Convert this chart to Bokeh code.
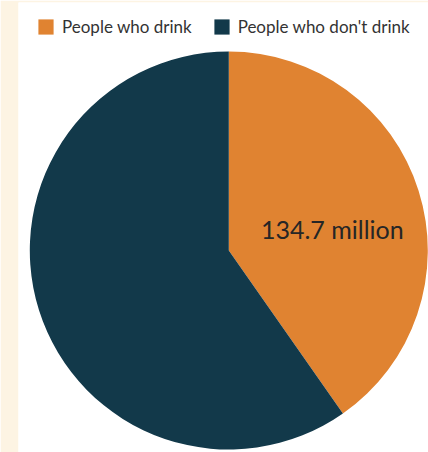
import math
from bokeh.plotting import figure
from bokeh.models import Range1d, Legend, LegendItem, ColumnDataSource
from bokeh.core.properties import value
from bokeh.embed import file_html
from bokeh.resources import INLINE

# ---- data ----
categories = ["People who drink", "People who don't drink"]
values_millions = [134.7, 199.7]
colors = ["#E08331", "#12394A"]
label_texts = ["134.7 million", ""]

# ---- layout constants ----
W, H = 428, 452
LEFT, TOP = 18, 2
CX, CY = 228.3, 250.0   # pie centre in page pixels
R = 199
FONT = "Lato"

p = figure(width=W, height=H, output_backend="svg", toolbar_location=None,
           min_border_left=LEFT, min_border_top=TOP, min_border_right=0, min_border_bottom=0,
           x_range=Range1d(LEFT - CX, W - CX), y_range=Range1d(CY - H, CY - TOP))
p.axis.visible = False
p.grid.visible = False
p.outline_line_color = None
p.background_fill_color = "white"
p.border_fill_color = "#FDF4E3"

total = sum(values_millions)
start = math.pi / 2
renderers = []
starts, ends = [], []
for v in values_millions:
    sweep = 2 * math.pi * v / total
    # clockwise from 12 o'clock
    starts.append(start - sweep)
    ends.append(start)
    start -= sweep

src = ColumnDataSource(dict(start=starts, end=ends, color=colors, cat=categories))
for i, cat in enumerate(categories):
    r = p.wedge(x=0, y=0, radius=R, start_angle=starts[i], end_angle=ends[i],
                fill_color=colors[i], line_color=None)
    renderers.append(r)

# value label inside the orange slice
p.text(x=[103.5], y=[22], text=[label_texts[0]], text_font=value(FONT),
       text_font_size="25px", text_color="#262626", text_align="center",
       text_baseline="middle")

legend = Legend(items=[LegendItem(label=c, renderers=[r]) for c, r in zip(categories, renderers)],
                orientation="horizontal", location=(18, 415), margin=0, padding=0,
                glyph_width=19, glyph_height=19, label_height=19, label_standoff=7,
                spacing=20, label_text_font=FONT, label_text_font_size="17px",
                label_text_color="#333333", border_line_color=None,
                background_fill_alpha=0)
p.add_layout(legend)

open("out.html", "w").write(file_html(p, INLINE))
